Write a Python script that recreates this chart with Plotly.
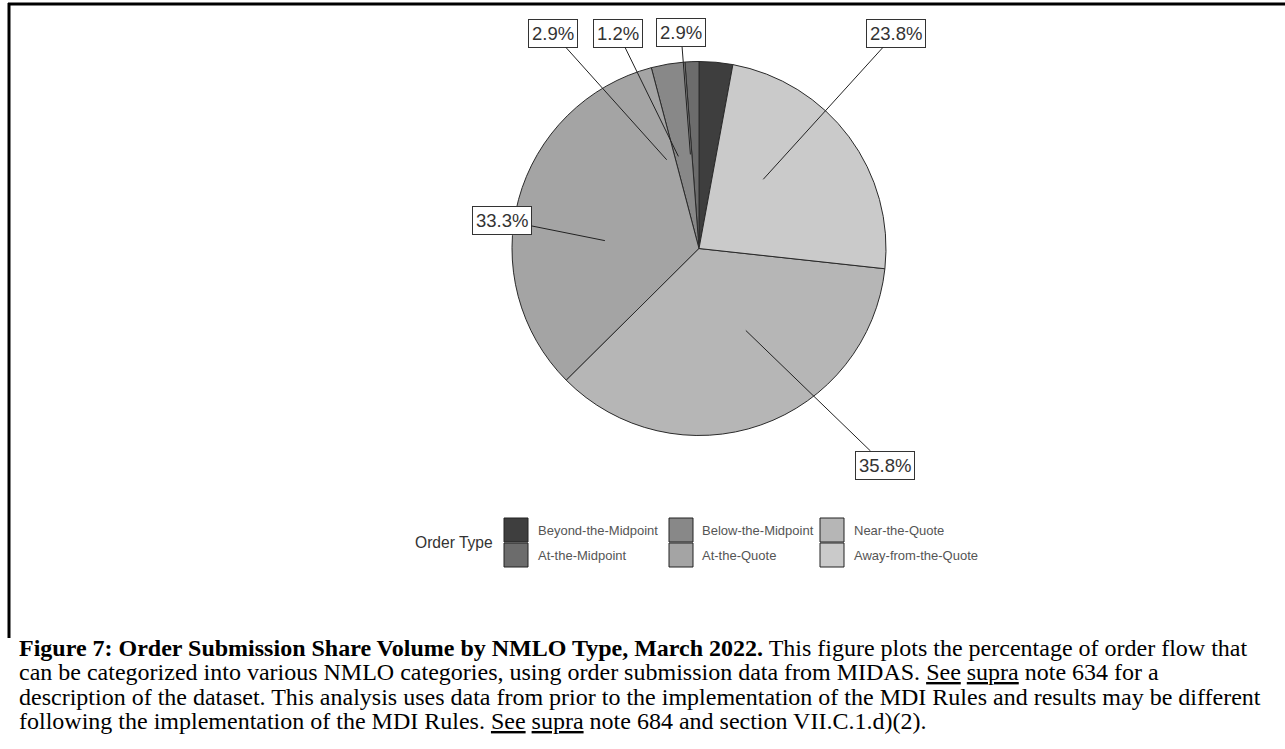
import math
import plotly.graph_objects as go

# ---------------- data ----------------
categories = ["Beyond-the-Midpoint", "At-the-Midpoint", "Below-the-Midpoint",
              "At-the-Quote", "Near-the-Quote", "Away-from-the-Quote"]
shares = [2.9, 1.2, 2.9, 33.3, 35.8, 23.8]
slice_colors = ["#3e3e3e", "#6c6c6c", "#888888", "#a4a4a4", "#b6b6b6", "#cacaca"]
legend_title = "Order Type"

caption_lines = [
    "<b>Figure 7: Order Submission Share Volume by NMLO Type, March 2022.</b> This figure plots the percentage of order flow that",
    "can be categorized into various NMLO categories, using order submission data from MIDAS. <u>See</u> <u>supra</u> note 634 for a",
    "description of the dataset. This analysis uses data from prior to the implementation of the MDI Rules and results may be different",
    "following the implementation of the MDI Rules. <u>See</u> <u>supra</u> note 684 and section VII.C.1.d)(2).",
]

# ---------------- layout constants ----------------
W, H = 1285, 749
CX, CY, R = 699, 248.5, 187

def px(x):
    return x / W

def py(y):
    return 1 - y / H

# label box centres (pixels), same order as categories
label_pos = [(681, 33), (618, 33), (553, 33), (502, 220), (885, 465), (896, 33)]

fig = go.Figure()
fig.add_trace(go.Pie(
    labels=categories, values=shares, sort=False,
    direction="counterclockwise", rotation=0,
    marker=dict(colors=slice_colors, line=dict(color="#2a2a2a", width=1)),
    textinfo="none", hoverinfo="label+value", showlegend=False,
    domain=dict(x=[px(CX - R), px(CX + R)], y=[py(CY + R), py(CY - R)]),
))

annotations = []
total = sum(shares)
cum = 0.0
for name, v, (lx, ly) in zip(categories, shares, label_pos):
    mid = (cum + v / 2) / total * 2 * math.pi
    cum += v
    hx = CX - 0.505 * R * math.sin(mid)
    hy = CY - 0.505 * R * math.cos(mid)
    annotations.append(dict(
        x=px(hx), y=py(hy), xref="paper", yref="paper",
        ax=lx - hx, ay=ly - hy, axref="pixel", ayref="pixel",
        text=f"{v:.1f}%", showarrow=True, arrowhead=0, arrowwidth=1,
        arrowcolor="#222", standoff=0, startstandoff=0,
        font=dict(family="Liberation Sans, Arial", size=18.5, color="#333"),
        bgcolor="white", bordercolor="#333", borderwidth=1, borderpad=3,
    ))

# legend (manual, 3 columns x 2 rows, column-major)
shapes = []
col_sw = [504, 669, 820]
col_tx = [536, 700, 852]
row_top = [518, 543]
for i, (name, col) in enumerate(zip(categories, slice_colors)):
    c, r = i // 2, i % 2
    shapes.append(dict(type="rect", xref="paper", yref="paper",
                       x0=px(col_sw[c]), x1=px(col_sw[c] + 24),
                       y0=py(row_top[r] + 24), y1=py(row_top[r]),
                       fillcolor=col, line=dict(color="#222", width=1)))
    annotations.append(dict(x=px(col_tx[c]), y=py(row_top[r] + 12), xref="paper", yref="paper",
                            xanchor="left", yanchor="middle", showarrow=False, text=name,
                            font=dict(family="Liberation Sans, Arial", size=13, color="#555")))
annotations.append(dict(x=px(495), y=py(542), xref="paper", yref="paper",
                        xanchor="right", yanchor="middle", showarrow=False, text=legend_title,
                        font=dict(family="Liberation Sans, Arial", size=15.6, color="#333")))

# caption
cap_y = [648, 672, 697, 721]
for t, yy in zip(caption_lines, cap_y):
    annotations.append(dict(x=px(17), y=py(yy), xref="paper", yref="paper",
                            xanchor="left", yanchor="middle", showarrow=False, text=t,
                            font=dict(family="Liberation Serif, Times New Roman", size=24, color="black")))

# frame lines
shapes.append(dict(type="line", xref="paper", yref="paper", x0=px(8), x1=px(1290),
                   y0=py(4), y1=py(4), line=dict(color="black", width=3)))
shapes.append(dict(type="line", xref="paper", yref="paper", x0=px(9), x1=px(9),
                   y0=py(3), y1=py(638), line=dict(color="black", width=3)))

fig.update_layout(
    width=W, height=H, margin=dict(l=0, r=0, t=0, b=0),
    paper_bgcolor="white", plot_bgcolor="white",
    annotations=annotations, shapes=shapes, showlegend=False,
)
fig.write_html("out.html", config={"displayModeBar": False},
               post_script="document.body.style.margin='0px';document.body.style.overflow='hidden';")
